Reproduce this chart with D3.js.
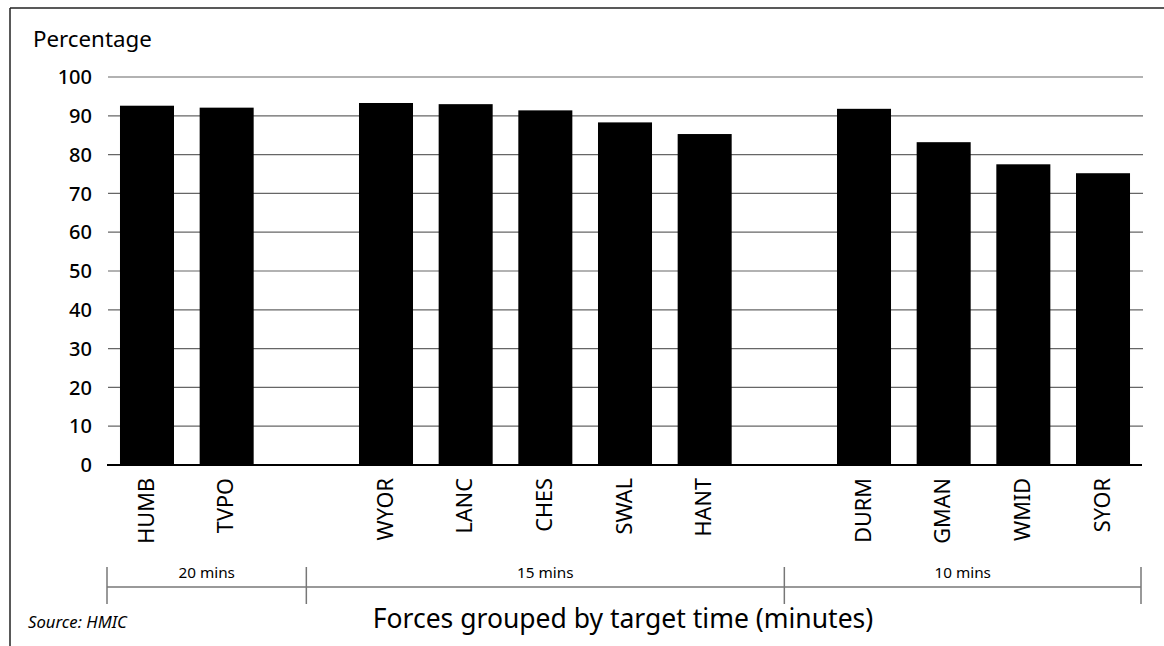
<!DOCTYPE html>
<html>
<head>
<meta charset="utf-8">
<script src="https://cdn.jsdelivr.net/npm/d3@7"></script>
<style>
  html, body { margin: 0; padding: 0; background: #fff; }
  svg { display: block; font-family: "Noto Sans", "Open Sans", sans-serif; }
</style>
</head>
<body>
<svg id="chart" width="1164" height="646"></svg>
<script>
// ---- data ----
const forces = ["HUMB", "TVPO", "WYOR", "LANC", "CHES", "SWAL", "HANT", "DURM", "GMAN", "WMID", "SYOR"];
const values = [92.6, 92.1, 93.3, 93.0, 91.4, 88.3, 85.3, 91.8, 83.2, 77.5, 75.2];
const groupLabels = ["20 mins", "15 mins", "10 mins"];
const groupSizes = [2, 5, 4];
const yTicks = [0, 10, 20, 30, 40, 50, 60, 70, 80, 90, 100];
const yTitle = "Percentage";
const xTitle = "Forces grouped by target time (minutes)";
const sourceText = "Source: HMIC";

// ---- build slots (forces plus a spacer slot between groups) ----
const slots = [];
const gapSlots = [];
let k = 0;
groupSizes.forEach((n, gi) => {
  for (let i = 0; i < n; i++) slots.push(forces[k++]);
  if (gi < groupSizes.length - 1) { const g = "__gap" + gi; slots.push(g); gapSlots.push(g); }
});

const svg = d3.select("#chart");
const W = 1164, H = 646;

const x = d3.scaleBand().domain(slots).range([107, 1143]).paddingInner(0.322).paddingOuter(0.163);
const y = d3.scaleLinear().domain([0, 100]).range([465, 77]);

// frame
svg.append("line").attr("x1", 10).attr("x2", W).attr("y1", 8).attr("y2", 8)
  .attr("stroke", "#222").attr("stroke-width", 1.5);
svg.append("line").attr("x1", 10).attr("x2", 10).attr("y1", 8).attr("y2", H)
  .attr("stroke", "#222").attr("stroke-width", 1.5);

// gridlines
svg.append("g").selectAll("line").data(yTicks.filter(t => t > 0)).join("line")
  .attr("x1", 108).attr("x2", 1143)
  .attr("y1", d => y(d)).attr("y2", d => y(d))
  .attr("stroke", "#666").attr("stroke-width", 1.2);

// y tick labels
svg.append("g").selectAll("text").data(yTicks).join("text")
  .attr("x", 92).attr("y", d => y(d)).attr("dy", "0.36em")
  .attr("text-anchor", "end").attr("font-size", 20).attr("font-weight", 500).attr("fill", "#000")
  .text(d => d);

// y title
svg.append("text").attr("x", 33).attr("y", 47).attr("font-size", 22.3).attr("fill", "#000").text(yTitle);

// bars
svg.append("g").selectAll("rect").data(forces).join("rect")
  .attr("x", d => x(d)).attr("width", x.bandwidth())
  .attr("y", (d, i) => y(values[i])).attr("height", (d, i) => y(0) - y(values[i]))
  .attr("fill", "#000");

// baseline
svg.append("line").attr("x1", 107).attr("x2", 1142).attr("y1", y(0)).attr("y2", y(0))
  .attr("stroke", "#000").attr("stroke-width", 2);

// x labels (rotated)
svg.append("g").selectAll("text").data(forces).join("text")
  .attr("transform", d => `translate(${x(d) + x.bandwidth() / 2 - 1},478) rotate(-90)`)
  .attr("dy", "0.36em").attr("text-anchor", "end")
  .attr("font-size", 21.7).attr("fill", "#000")
  .text(d => d);

// group bracket
const bounds = [107, ...gapSlots.map(g => x(g) + x.bandwidth() / 2), 1141];
const bracket = svg.append("g").attr("stroke", "#777").attr("stroke-width", 1.5);
bracket.append("line").attr("x1", bounds[0]).attr("x2", bounds[bounds.length - 1])
  .attr("y1", 587).attr("y2", 587);
bracket.selectAll("line.tick").data(bounds).join("line").attr("class", "tick")
  .attr("x1", d => d).attr("x2", d => d).attr("y1", 567).attr("y2", 604);

svg.append("g").selectAll("text").data(groupLabels).join("text")
  .attr("x", (d, i) => (bounds[i] + bounds[i + 1]) / 2).attr("y", 578)
  .attr("text-anchor", "middle").attr("font-size", 15.3).attr("fill", "#000")
  .text(d => d);

// x title
svg.append("text").attr("x", 623).attr("y", 628).attr("text-anchor", "middle")
  .attr("font-size", 26.5).attr("fill", "#000").text(xTitle);

// source
svg.append("text").attr("x", 28).attr("y", 628).attr("font-size", 16.7)
  .attr("font-style", "italic").attr("fill", "#000").text(sourceText);
</script>
</body>
</html>
